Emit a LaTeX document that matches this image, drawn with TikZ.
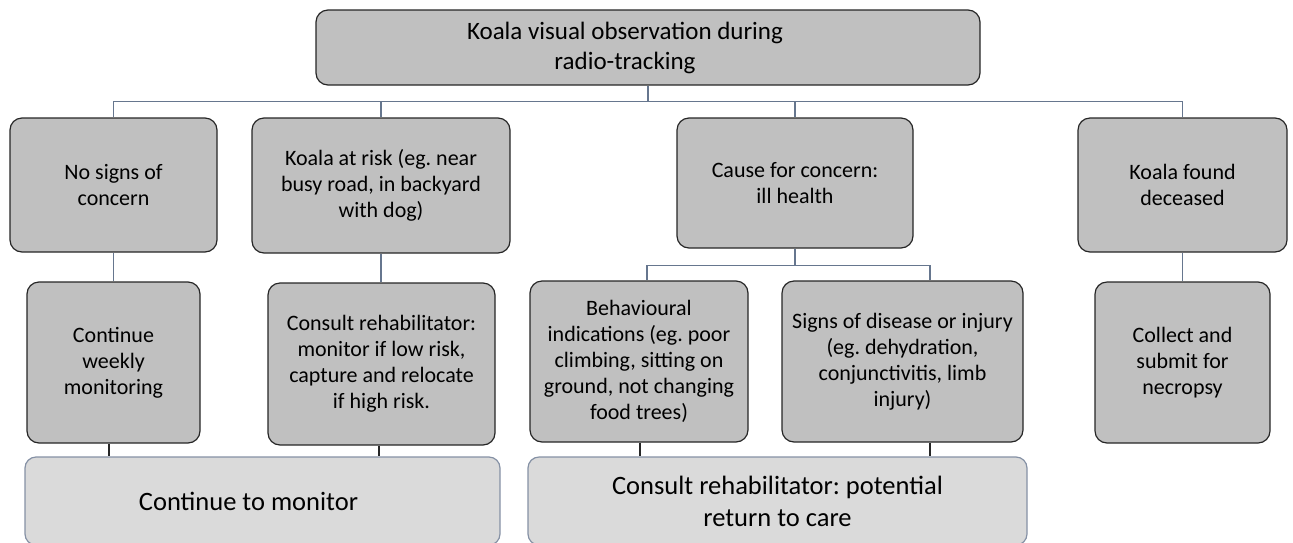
\documentclass[tikz,border=0pt]{standalone}
\usepackage{fontspec}
\setmainfont{Carlito}
\usetikzlibrary{positioning,calc}
\definecolor{boxgray}{RGB}{192,192,192}
\definecolor{pale}{RGB}{218,218,218}
\definecolor{slate}{RGB}{102,118,142}
\definecolor{edge}{RGB}{38,38,38}
\tikzset{
  obs/.style  ={draw=edge,fill=boxgray,rounded corners=12pt,line width=1.2pt,
                align=center,font=\fontsize{22}{26}\selectfont},
  act/.style  ={draw=slate!80,fill=pale,rounded corners=11pt,line width=1.2pt,
                align=center,font=\fontsize{26.5}{32}\selectfont},
  link/.style ={draw=slate,line width=1.6pt},
  tick/.style ={draw=edge,line width=1.4pt}
}
\frenchspacing

\begin{document}
\begin{tikzpicture}[x=1pt,y=-1pt]

\clip (0,0) rectangle (1293,542);

\node[obs,minimum width=664pt,minimum height=75pt,
      label={[font=\fontsize{25}{30}\selectfont,align=center,xshift=-23pt]center:Koala visual observation during\\radio-tracking}]
      (top) at (648,47.5) {};

% first row
\node[obs,minimum width=207pt,minimum height=134pt] (nosig) at (113.5,185)  {No signs of\\concern};
\node[obs,minimum width=258pt,minimum height=135pt] (risk)  at (381,185.5)  {Koala at risk (eg. near\\busy road, in backyard\\with dog)};
\node[obs,minimum width=236pt,minimum height=130pt] (cause) at (795,183)    {Cause for concern:\\ill health};
\node[obs,minimum width=209pt,minimum height=134pt] (dead)  at (1182.5,185) {Koala found\\deceased};

% second row
\node[obs,minimum width=173pt,minimum height=161pt] (weekly)  at (113.5,362.5)  {Continue\\weekly\\monitoring};
\node[obs,minimum width=227pt,minimum height=162pt] (consult) at (381.5,364)    {Consult rehabilitator:\\monitor if low risk,\\capture and relocate\\if high risk.};
\node[obs,minimum width=218pt,minimum height=161pt] (behav)   at (639,361.5)    {Behavioural\\indications (eg. poor\\climbing, sitting on\\ground, not changing\\food trees)};
\node[obs,minimum width=241pt,minimum height=161pt] (signs)   at (902.5,361.5)  {Signs of disease or injury\\(eg. dehydration,\\conjunctivitis, limb\\injury)};
\node[obs,minimum width=175pt,minimum height=161pt] (collect) at (1182.5,362.5) {Collect and\\submit for\\necropsy};

% outcomes
\node[act,minimum width=475pt,minimum height=88pt,
      label={[font=\fontsize{26.5}{32}\selectfont,xshift=-14pt]center:Continue to monitor}]
      (monitor) at (262.5,501) {};
\node[act,minimum width=499pt,minimum height=88pt] (care) at (777.5,501) {Consult rehabilitator: potential\\return to care};

\coordinate (bus)  at ($(top.south)+(0,16)$);
\draw[link] (top.south) -- (bus);
\draw[link] (nosig.north) |- (bus) -| (dead.north);
\draw[link] (risk.north) -- (risk.north |- bus);
\draw[link] (cause.north) -- (cause.north |- bus);

\draw[link] (nosig.south) -- (weekly.north);
\draw[link] (risk.south) -- (risk.south |- consult.north);
\draw[link] (dead.south) -- (collect.north);

\coordinate (fork) at ($(cause.south)+(0,17)$);
\coordinate (fb) at ($(behav.north)+(8,0)$);
\coordinate (fs) at ($(signs.north)+(27.5,0)$);
\draw[link] (cause.south) -- (fork);
\draw[link] (fb) |- (fork) -| (fs);

\coordinate (w1) at ($(weekly.south)+(-4.5,0)$);
\coordinate (c1) at ($(consult.south)+(-2.5,0)$);
\coordinate (b1) at ($(behav.south)+(1,0)$);
\coordinate (s1) at ($(signs.south)+(27.5,0)$);
\draw[tick] (w1) -- (w1 |- monitor.north);
\draw[tick] (c1) -- (c1 |- monitor.north);
\draw[tick] (b1) -- (b1 |- care.north);
\draw[tick] (s1) -- (s1 |- care.north);

\end{tikzpicture}
\end{document}
